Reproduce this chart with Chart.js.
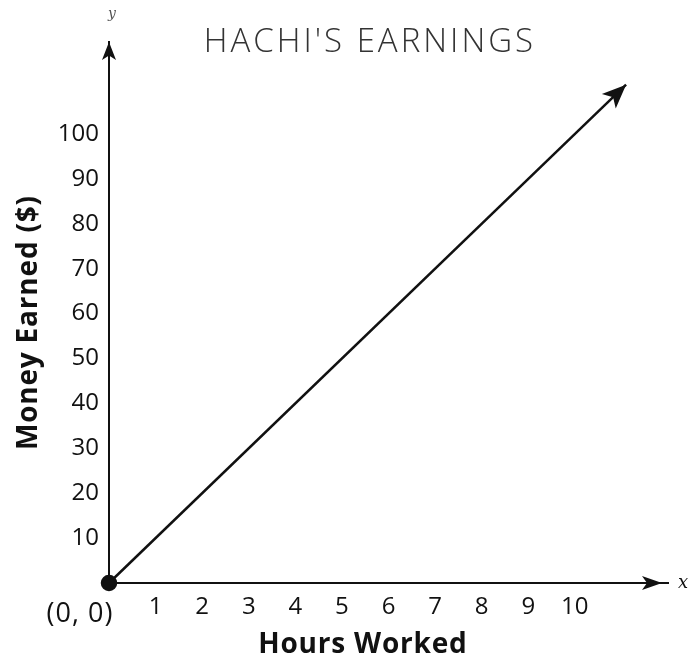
<!DOCTYPE html>
<html>
<head>
<meta charset="utf-8">
<script src="https://cdn.jsdelivr.net/npm/chart.js@4.4.1/dist/chart.umd.min.js"></script>
<style>
  html, body { margin: 0; padding: 0; background: #fff; }
  #wrap { width: 688px; height: 663px; }
</style>
</head>
<body>
<div id="wrap"><canvas id="grafico"></canvas></div>
<script>
// datos de la grafica
const tituloGrafico = "HACHI'S EARNINGS";
const tituloX = 'Hours Worked';
const tituloY = 'Money Earned ($)';
const etiquetaOrigen = '(0, 0)';
const horas = [0, 11.1];      // horas trabajadas
const dinero = [0, 111];      // dinero ganado ($)
const ticksX = [1, 2, 3, 4, 5, 6, 7, 8, 9, 10];
const ticksY = [10, 20, 30, 40, 50, 60, 70, 80, 90, 100];
const maxX = 12;
const maxY = 120.5;

const fuente = '"Open Sans", "Noto Sans", sans-serif';

// dibuja una punta de flecha rellena con la punta en (x2, y2)
function puntaFlecha(ctx, x1, y1, x2, y2, largo, ancho) {
    const ang = Math.atan2(y2 - y1, x2 - x1);
    ctx.save();
    ctx.translate(x2, y2);
    ctx.rotate(ang);
    ctx.beginPath();
    ctx.moveTo(0, 0);
    ctx.lineTo(-largo, -ancho);
    ctx.lineTo(-largo * 0.75, 0);
    ctx.lineTo(-largo, ancho);
    ctx.closePath();
    ctx.fill();
    ctx.restore();
}

const pluginTextos = {
    id: 'textosYFlechas',
    afterDraw(chart) {
        const ctx = chart.ctx;
        const area = chart.chartArea;
        const sx = chart.scales.x;
        const sy = chart.scales.y;
        ctx.save();
        ctx.fillStyle = '#111';

        // flechas de los ejes
        puntaFlecha(ctx, area.left, area.bottom, area.left, area.top, 18, 7);
        puntaFlecha(ctx, area.left, area.bottom, area.right - 6, area.bottom, 20, 7);

        // flecha de la recta
        const pts = chart.getDatasetMeta(0).data;
        const a = pts[0], b = pts[pts.length - 1];
        puntaFlecha(ctx, a.x, a.y, b.x, b.y, 24, 10);

        // titulo
        ctx.fillStyle = '#333';
        ctx.font = '300 33px ' + fuente;
        ctx.letterSpacing = '3px';
        ctx.textAlign = 'center';
        ctx.textBaseline = 'alphabetic';
        ctx.fillText(tituloGrafico, sx.getPixelForValue(5.6), 52);

        // nombres de los ejes
        ctx.fillStyle = '#111';
        ctx.font = 'bold 28px ' + fuente;
        ctx.letterSpacing = '0.8px';
        ctx.fillText(tituloX, sx.getPixelForValue(5.45), 653);

        ctx.save();
        ctx.translate(37, sy.getPixelForValue(58));
        ctx.rotate(-Math.PI / 2);
        ctx.fillText(tituloY, 0, 0);
        ctx.restore();

        // etiqueta del origen
        ctx.font = '27px ' + fuente;
        ctx.letterSpacing = '1px';
        ctx.fillText(etiquetaOrigen, 80, 622);

        // letras x / y de los ejes
        ctx.letterSpacing = '0px';
        ctx.font = 'italic 14px "DejaVu Serif", serif';
        ctx.fillStyle = '#555';
        ctx.fillText('y', area.left + 3, 18);
        ctx.font = 'italic 18px "DejaVu Serif", serif';
        ctx.fillStyle = '#111';
        ctx.textAlign = 'left';
        ctx.fillText('x', area.right + 10, area.bottom + 5);
        ctx.restore();
    }
};

const ctxGrafico = document.getElementById('grafico').getContext('2d');
const grafico = new Chart(ctxGrafico, {
    type: 'line',
    data: {
        datasets: [{
            data: horas.map((h, i) => ({ x: h, y: dinero[i] })),
            borderColor: '#111',
            borderWidth: 2.5,
            pointRadius: [7, 0],
            pointBackgroundColor: '#111',
            pointBorderColor: '#111',
            tension: 0,
            clip: false
        }]
    },
    options: {
        responsive: true,
        maintainAspectRatio: false,
        animation: false,
        layout: { padding: { top: 42, right: 20, left: 0, bottom: 0 } },
        plugins: {
            legend: { display: false },
            tooltip: { enabled: false },
            title: { display: false }
        },
        scales: {
            x: {
                type: 'linear',
                min: 0,
                max: maxX,
                afterBuildTicks: (scale) => { scale.ticks = ticksX.map(v => ({ value: v })); },
                afterFit: (scale) => { scale.height = 80; },
                grid: { display: false, drawTicks: false },
                border: { display: true, color: '#111', width: 2 },
                ticks: {
                    color: '#111',
                    padding: 10,
                    maxRotation: 0,
                    font: { family: fuente, size: 24 }
                }
            },
            y: {
                type: 'linear',
                min: 0,
                max: maxY,
                afterBuildTicks: (scale) => { scale.ticks = ticksY.map(v => ({ value: v })); },
                afterFit: (scale) => { scale.width = 109; },
                grid: { display: false, drawTicks: false },
                border: { display: true, color: '#111', width: 2 },
                ticks: {
                    color: '#111',
                    padding: 10,
                    font: { family: fuente, size: 24 }
                }
            }
        }
    },
    plugins: [pluginTextos]
});
</script>
</body>
</html>
